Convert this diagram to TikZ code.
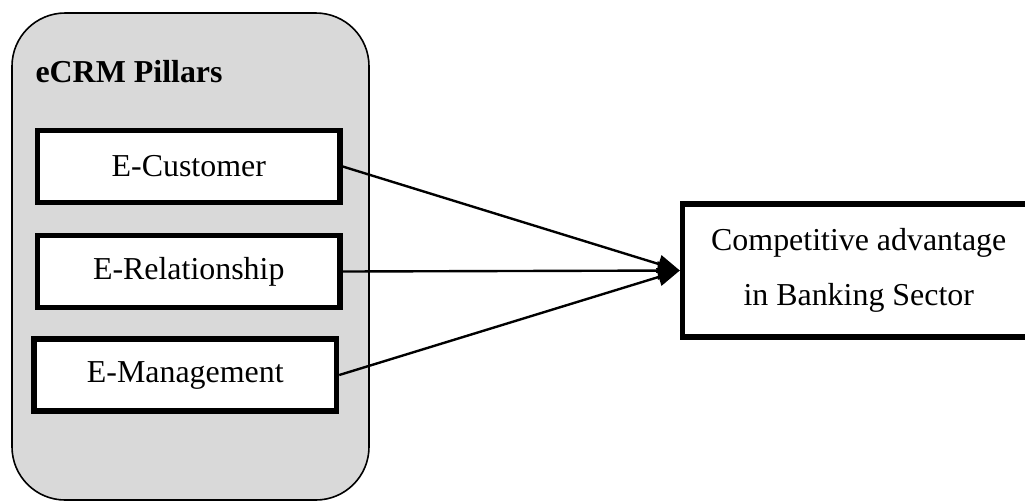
\documentclass[tikz,border=0pt]{standalone}
\usepackage{fontspec}
\setmainfont{Liberation Serif}
\usepackage{tikz}
\tikzset{>=latex}
\usetikzlibrary{arrows,positioning}
\definecolor{panelgray}{HTML}{D9D9D9}
\tikzset{pillar/.style={draw,line width=2.1pt,fill=white,minimum width=113.7pt,minimum height=27.1pt,inner sep=0pt,font=\fontsize{12}{14}\selectfont}}

\begin{document}
\begin{tikzpicture}[>=triangle 45,x=0.376pt,y=-0.376pt]
	\useasboundingbox (0,0) rectangle (1025,501);
	\draw[fill=panelgray,line width=0.6pt,rounded corners=20pt] (12,13) rectangle (369,500);
	\node[anchor=base west,inner sep=0pt,font=\bfseries\fontsize{12}{14}\selectfont] (title) at (35,82) {eCRM Pillars};
	\node[pillar] (cust) at (188.75,166.5) {E-Customer};
	\node[pillar] (rel) at (188.75,271.5) {E-Relationship};
	\node[pillar] (mgmt) at (185.25,375) {E-Management};
	\node[pillar,minimum width=132.5pt,minimum height=50pt,align=center,font=\fontsize{12}{20.7}\selectfont] (adv) at (858.75,270.5) {Competitive advantage\\in Banking Sector};
	\foreach \n in {cust,rel,mgmt}
	\draw[->,line width=0.9pt] (\n.east) -- (adv.west);
\end{tikzpicture}
\end{document}
